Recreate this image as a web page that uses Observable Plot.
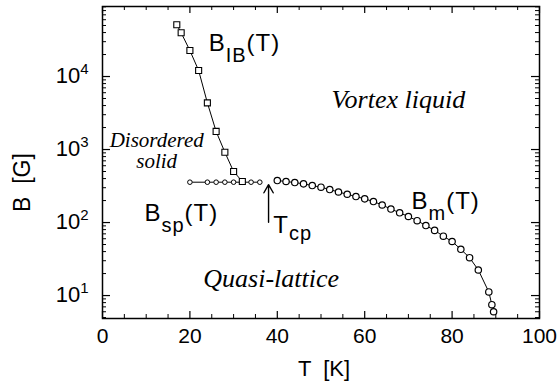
<!DOCTYPE html>
<html><head><meta charset="utf-8">
<script src="https://cdn.jsdelivr.net/npm/d3@7"></script>
<script src="https://cdn.jsdelivr.net/npm/@observablehq/plot@0.6"></script>
<style>body{margin:0;background:#fff}</style>
</head><body><div id="chart"></div>
<script>
// B_IB(T): squares
const tIB = [17, 18, 20, 22, 24, 26, 28, 30, 32];
const bIB = [51100, 39700, 22700, 12100, 4360, 1770, 918, 500, 365];
// B_sp(T): small circles
const tSP = [20, 24, 26, 28, 30, 32, 34, 36];
const bSP = [357, 357, 357, 357, 357, 357, 357, 357];
// B_m(T): circles
const tM = [40, 42, 44, 46, 48, 50, 52, 54, 56, 58, 60, 62, 64, 66, 68, 70, 72, 74, 76, 78, 80, 82, 84, 86, 88.4, 89.1, 89.5];
const bM = [376, 365, 353, 339, 321, 305, 283, 262, 244, 227, 211, 194, 174, 153, 136, 121, 106, 91, 78, 65, 55, 43, 33, 22.4, 11.2, 7.5, 6.0];
// tick labels
const xTickLabels = [0, 20, 40, 60, 80, 100];
const yTickExps = [1, 2, 3, 4];
// annotations (text, T, B)
const regionLabels = [
  {text: "Vortex liquid", T: 67.7, B: 3760},
  {text: "Quasi-lattice", T: 38.6, B: 12.9}
];
const solidLabel = [{text: "Disordered\nsolid", T: 12.4, B: 566}];
const curveLabels = [
  {text: "B{IB}(T)", T: 24.3, B: 22700},
  {text: "B{sp}(T)", T: 9.6, B: 106.5},
  {text: "B{m}(T)", T: 70.7, B: 155.6},
  {text: "T{cp}", T: 39.1, B: 72.9}
];
const yTitle = [{text: "B  [G]", B: 353}];
const tcpArrow = [{T: 38, B1: 101, B2: 330}];

const IB = tIB.map((t, i) => ({t, b: bIB[i]}));
const SP = tSP.map((t, i) => ({t, b: bSP[i]}));
const M = tM.map((t, i) => ({t, b: bM[i]}));

const xMajor = d3.range(0, 101, 20);
const xMinor = d3.range(0, 101, 5).filter(v => v % 20 !== 0);
const yMajor = yTickExps.map(e => 10 ** e);
const yMinor = [];
for (let e = 0; e <= 4; e++) for (let m = 2; m <= 9; m++) {
  const v = m * 10 ** e;
  if (v >= 4.85 && v <= 91000) yMinor.push(v);
}

const width = 557, height = 390;
const mL = 102, mR = 18, mT = 6, mB = 72;
const fw = width - mL - mR, fh = height - mT - mB;
const sans = "'Liberation Sans', Arial, Helvetica, sans-serif";
const serif = "'Liberation Serif', 'Times New Roman', serif";

const chart = Plot.plot({
  width, height,
  marginLeft: mL, marginRight: mR, marginTop: mT, marginBottom: mB,
  x: {domain: [0, 100], axis: null},
  y: {type: "log", domain: [4.85, 91000], axis: null},
  style: {fontFamily: sans, background: "#fff", color: "#000"},
  marks: [
    // inward ticks
    Plot.tickX(xMajor, {x: d => d, insetTop: fh - 7, strokeWidth: 1.2}),
    Plot.tickX(xMajor, {x: d => d, insetBottom: fh - 7, strokeWidth: 1.2}),
    Plot.tickX(xMinor, {x: d => d, insetTop: fh - 4, strokeWidth: 1}),
    Plot.tickX(xMinor, {x: d => d, insetBottom: fh - 4, strokeWidth: 1}),
    Plot.tickY(yMajor, {y: d => d, insetRight: fw - 8, strokeWidth: 1.2}),
    Plot.tickY(yMajor, {y: d => d, insetLeft: fw - 8, strokeWidth: 1.2}),
    Plot.tickY(yMinor, {y: d => d, insetRight: fw - 4, strokeWidth: 1}),
    Plot.tickY(yMinor, {y: d => d, insetLeft: fw - 4, strokeWidth: 1}),
    Plot.frame({stroke: "#000", strokeWidth: 1.5}),
    // tick labels
    Plot.text(xTickLabels, {x: d => d, text: d => String(d), frameAnchor: "bottom", dy: 24, fontSize: 21}),
    Plot.text(yTickExps, {y: d => 10 ** d, text: d => "10^{" + d + "}", frameAnchor: "left", textAnchor: "end", dx: -14, dy: -1, fontSize: 22}),
    // axis titles
    Plot.text(["T  [K]"], {frameAnchor: "bottom", dy: 57, dx: 3, fontSize: 22}),
    Plot.text(yTitle, {y: "B", text: "text", frameAnchor: "left", textAnchor: "middle", dx: -80, rotate: -90, fontSize: 23}),
    // curves
    Plot.line(IB, {x: "t", y: "b", stroke: "#000", strokeWidth: 1}),
    Plot.line(SP, {x: "t", y: "b", stroke: "#000", strokeWidth: 1}),
    Plot.line(M, {x: "t", y: "b", stroke: "#000", strokeWidth: 1}),
    Plot.dot(SP, {x: "t", y: "b", r: 2.3, fill: "#fff", stroke: "#000", strokeWidth: 1}),
    Plot.dot(IB, {x: "t", y: "b", symbol: "square", r: 3.4, fill: "#fff", stroke: "#000", strokeWidth: 1.1}),
    Plot.dot(M, {x: "t", y: "b", r: 3.2, fill: "#fff", stroke: "#000", strokeWidth: 1.2}),
    // arrow at T_cp
    Plot.arrow(tcpArrow, {x1: "T", x2: "T", y1: "B1", y2: "B2", stroke: "#000", strokeWidth: 1.4, headLength: 10}),
    // labels
    Plot.text(regionLabels, {x: "T", y: "B", text: "text", lineAnchor: "bottom", fontFamily: serif, fontStyle: "italic", fontSize: 26}),
    Plot.text(solidLabel, {x: "T", y: "B", text: "text", lineAnchor: "bottom", lineHeight: 1, fontFamily: serif, fontStyle: "italic", fontSize: 21}),
    Plot.text(curveLabels, {x: "T", y: "B", text: "text", textAnchor: "start", lineAnchor: "bottom", fontSize: 24})
  ]
});

// turn {sub} / ^{sup} markers into tspans
d3.select(chart).selectAll("text").each(function () {
  const el = this;
  const s = el.textContent;
  let m = s.match(/^(.*?)\^\{(.*?)\}(.*)$/);
  let shift = 0, size = 15, ls = null;
  if (m) { shift = -9; size = 15; }
  else {
    m = s.match(/^(.*?)\{(.*?)\}(.*)$/);
    if (m) { shift = s.startsWith("T") ? 7 : 11; size = 20; ls = 1; }
  }
  if (!m) return;
  const sel = d3.select(el);
  sel.text(null);
  if (ls) sel.attr("letter-spacing", ls);
  sel.append("tspan").text(m[1]);
  sel.append("tspan").attr("dy", shift).attr("font-size", size).text(m[2]);
  if (m[3]) sel.append("tspan").attr("dy", -shift).text(m[3]);
});

document.getElementById("chart").appendChild(chart);
</script>
</body></html>
